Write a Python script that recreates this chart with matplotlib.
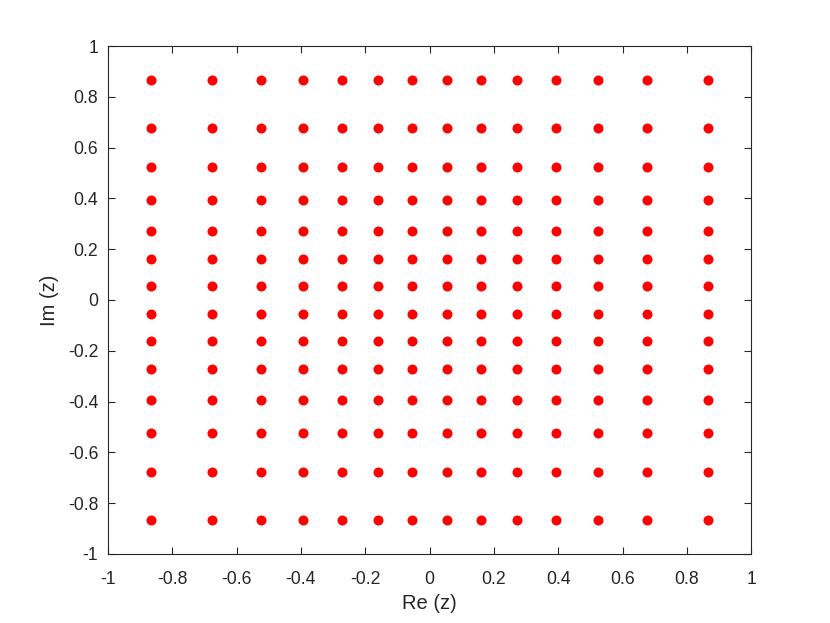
import matplotlib
matplotlib.use("Agg")
import matplotlib.pyplot as plt
import numpy as np

re_values = [-0.866, -0.676, -0.524, -0.393, -0.272, -0.160, -0.054,
             0.054, 0.160, 0.272, 0.393, 0.524, 0.676, 0.866]
im_values = [-0.866, -0.676, -0.524, -0.393, -0.272, -0.160, -0.054,
             0.054, 0.160, 0.272, 0.393, 0.524, 0.676, 0.866]
x_ticks = [-1, -0.8, -0.6, -0.4, -0.2, 0, 0.2, 0.4, 0.6, 0.8, 1]
y_ticks = [-1, -0.8, -0.6, -0.4, -0.2, 0, 0.2, 0.4, 0.6, 0.8, 1]
x_label = "Re (z)"
y_label = "Im (z)"

plt.rcParams['font.family'] = ['Liberation Sans', 'DejaVu Sans']
fig = plt.figure(figsize=(8.30, 6.23), dpi=100)
ax = fig.add_axes([0.130, 0.111, 0.775, 0.815])

X, Y = np.meshgrid(re_values, im_values)
ax.plot(X.ravel(), Y.ravel(), 'o', color='#ff0000', markersize=7.2,
        markeredgewidth=0, linestyle='none')

ax.set_xlim(-1, 1)
ax.set_ylim(-1, 1)
ax.set_xticks(x_ticks)
ax.set_yticks(y_ticks)
fmt = lambda v: ('%g' % v)
ax.set_xticklabels([fmt(v) for v in x_ticks])
ax.set_yticklabels([fmt(v) for v in y_ticks])
txtc = '#262626'
ax.tick_params(direction='in', length=5, width=0.8, colors=txtc,
               labelsize=12.7, top=True, right=True)
ax.tick_params(axis='x', pad=12)
ax.tick_params(axis='y', pad=7)
for s in ax.spines.values():
    s.set_color(txtc)
    s.set_linewidth(0.8)
ax.set_xlabel(x_label, fontsize=14.5, color=txtc, labelpad=5)
ax.set_ylabel(y_label, fontsize=14.5, color=txtc, labelpad=6)

fig.savefig("out.png", dpi=100)
